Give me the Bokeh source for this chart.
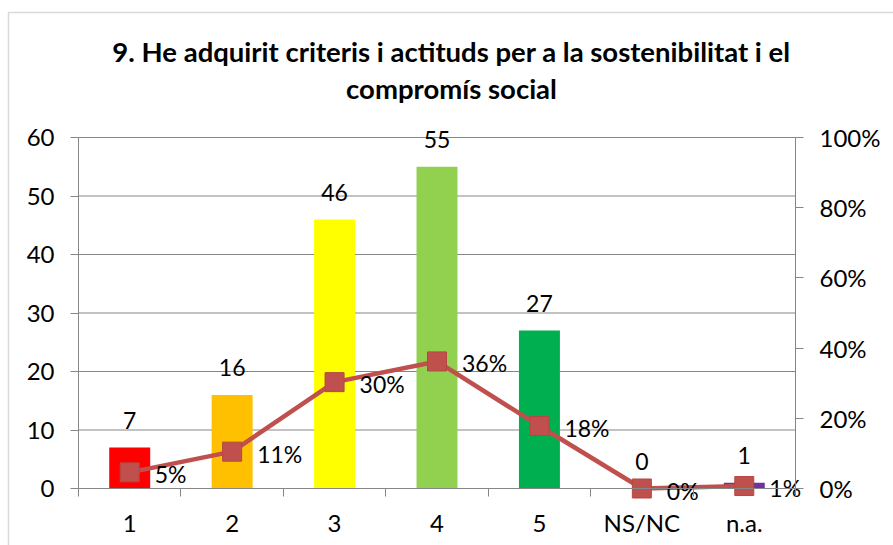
from bokeh.plotting import figure
from bokeh.models import (Range1d, LinearAxis, FixedTicker, PrintfTickFormatter,
                          ColumnDataSource, Label, BoxAnnotation)
from bokeh.embed import file_html
from bokeh.resources import INLINE
from bokeh.core.properties import value

categories = ["1", "2", "3", "4", "5", "NS/NC", "n.a."]
counts = [7, 16, 46, 55, 27, 0, 1]
percents = [4.6, 10.5, 30.3, 36.2, 17.8, 0.0, 0.7]
percent_labels = ["5%", "11%", "30%", "36%", "18%", "0%", "1%"]
bar_colors = ["#FF0000", "#FFC000", "#FFFF00", "#92D050", "#00B050", "#4F81BD", "#7030A0"]
count_ticks = [0, 10, 20, 30, 40, 50, 60]
percent_ticks = [0, 20, 40, 60, 80, 100]
title_lines = ["9. He adquirit criteris i actituds per a la sostenibilitat i el",
               "compromís social"]

FONT = "Lato"
GREY = "#868686"
LINE = "#C0504D"
W, H = 893, 545
# plot area in canvas pixels
PL, PR, PT, PB = 78, 795, 137, 488

n = len(categories)
x0, x1 = 0.5, n + 0.5
y0, y1 = count_ticks[0], count_ticks[-1]
q0, q1 = percent_ticks[0], percent_ticks[-1]

# ranges extended so that the plot area maps onto the canvas rectangle above
sx = (PR - PL) / (x1 - x0)
sy = (PB - PT) / (y1 - y0)
sq = (PB - PT) / (q1 - q0)
xr = Range1d(x0 - PL / sx, x1 + (W - PR) / sx)
yr = Range1d(y0 - (H - PB) / sy, y1 + PT / sy)
qr = Range1d(q0 - (H - PB) / sq, q1 + PT / sq)

xs = list(range(1, n + 1))
src = ColumnDataSource(dict(x=xs, count=counts, pct=percents, color=bar_colors,
                            count_label=[str(c) for c in counts],
                            pct_label=percent_labels))

p = figure(width=W, height=H, output_backend="svg", toolbar_location=None,
           x_range=xr, y_range=yr, min_border=0, title=None)
p.extra_y_ranges = {"pct": qr}
p.outline_line_color = None
p.background_fill_color = "white"
p.border_fill_color = "white"
p.xgrid.visible = False
p.ygrid.visible = False

# chart border (left and top edges visible)
p.add_layout(BoxAnnotation(left=xr.start + 8 / sx, right=xr.end + 1,
                           top=yr.end - 12 / sy, bottom=yr.start - 1,
                           fill_color=None, line_color=GREY, line_width=1.5))

# horizontal gridlines
p.segment(x0=[x0] * len(count_ticks), x1=[x1] * len(count_ticks),
          y0=count_ticks, y1=count_ticks, line_color=GREY, line_width=1)

# bars
p.vbar(x="x", top="count", width=0.4, fill_color="color", line_color=None, source=src)

# line + markers
p.line("x", "pct", y_range_name="pct", line_color=LINE, line_width=4.5, source=src)
p.scatter("x", "pct", y_range_name="pct", marker="square", size=19,
          fill_color=LINE, line_color="#B5473F", line_width=1, source=src)

# value labels
p.text("x", "count", text="count_label", source=src, text_align="center",
       text_baseline="middle", y_offset=-27, text_font=value(FONT),
       text_font_size="23px", text_color="black")
p.text("x", "pct", text="pct_label", source=src, y_range_name="pct",
       text_align="left", text_baseline="middle", x_offset=25, y_offset=2,
       text_font=value(FONT), text_font_size="23px", text_color="black")


def style_axis(ax):
    ax.axis_line_color = GREY
    ax.major_tick_line_color = GREY
    ax.major_tick_out = 8
    ax.major_tick_in = 0
    ax.minor_tick_line_color = None
    ax.major_label_text_font = FONT
    ax.major_label_text_font_size = "24px"
    ax.major_label_text_color = "black"
    ax.major_label_standoff = 16


# left axis
ya = p.yaxis[0]
ya.ticker = FixedTicker(ticks=count_ticks)
ya.fixed_location = x0
ya.bounds = (y0, y1)
style_axis(ya)

# right axis
ra = LinearAxis(y_range_name="pct", ticker=FixedTicker(ticks=percent_ticks),
                formatter=PrintfTickFormatter(format="%d%%"))
ra.fixed_location = x1
ra.bounds = (q0, q1)
style_axis(ra)
p.add_layout(ra, "right")

# bottom axis
xa = p.xaxis[0]
xa.ticker = FixedTicker(ticks=xs, minor_ticks=[x - 0.5 for x in xs] + [xs[-1] + 0.5])
xa.major_label_overrides = {x: c for x, c in zip(xs, categories)}
xa.fixed_location = y0
xa.bounds = (x0, x1)
style_axis(xa)
xa.major_tick_line_color = None
xa.minor_tick_line_color = GREY
xa.minor_tick_out = 8
xa.minor_tick_in = 0
xa.major_label_standoff = 11

# title: two centered lines
for txt, cy in zip(title_lines, [51, 88]):
    p.add_layout(Label(x=451, y=H - cy, x_units="screen", y_units="screen", text=txt,
                       text_align="center", text_baseline="middle",
                       text_font=FONT, text_font_style="bold",
                       text_font_size="27.5px", text_color="black"))

open("out.html", "w").write(file_html(p, INLINE))
